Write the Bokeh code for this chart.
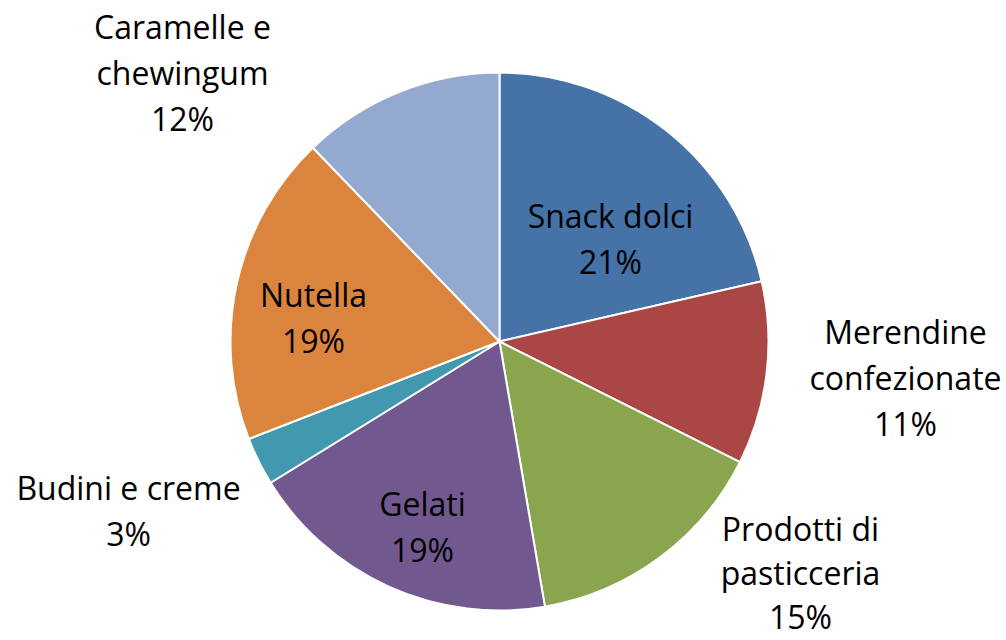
import math
from bokeh.plotting import figure
from bokeh.models import Range1d, ColumnDataSource
from bokeh.core.properties import value
from bokeh.embed import file_html
from bokeh.resources import INLINE

# ---- data ----
categories = ["Snack dolci", "Merendine confezionate", "Prodotti di pasticceria",
              "Gelati", "Budini e creme", "Nutella", "Caramelle e chewingum"]
shares = [21.4, 11.0, 14.9, 18.9, 2.9, 18.7, 12.2]
label_lines = [["Snack dolci"], ["Merendine", "confezionate"], ["Prodotti di", "pasticceria"],
               ["Gelati"], ["Budini e creme"], ["Nutella"], ["Caramelle e", "chewingum"]]
colors = ["#4572A7", "#AA4643", "#89A54E", "#71588F", "#4198AF", "#DB843D", "#93A9CF"]

# ---- layout ----
W, H = 1006, 640
CX, CY, R = 499, 640 - 341, 269
# label block centres (screen px)
label_xy = [(610, 238), (905, 377), (800, 572), (422, 526), (128, 510), (313, 317), (182, 72)]
line_gaps = [46, 46, 44, 46, 46, 46, 46]
FONT = "Open Sans"
FS = 32

total = sum(shares)
starts, ends = [], []
cum = 0.0
for v in shares:
    a0 = math.pi / 2 - 2 * math.pi * cum / total
    cum += v
    a1 = math.pi / 2 - 2 * math.pi * cum / total
    starts.append(a0)
    ends.append(a1)

p = figure(width=W, height=H, x_range=Range1d(0, W), y_range=Range1d(0, H),
           x_axis_type=None, y_axis_type=None, toolbar_location=None,
           output_backend="svg", min_border=0, outline_line_color=None,
           background_fill_color="white", border_fill_color="white")
p.grid.visible = False

src = ColumnDataSource(dict(start=starts, end=ends, color=colors, cat=categories))
p.wedge(x=CX, y=CY, radius=R, start_angle="start", end_angle="end", direction="clock",
        fill_color="color", line_color="white", line_width=2, source=src)

tx, ty, tt = [], [], []
for lines, v, (lx, ly), gap in zip(label_lines, shares, label_xy, line_gaps):
    allines = lines + [f"{round(v / total * 100)}%"]
    n = len(allines)
    for i, t in enumerate(allines):
        sy = ly + (i - (n - 1) / 2) * gap
        tx.append(lx)
        ty.append(H - sy)
        tt.append(t)

p.text(x=tx, y=ty, text=tt, text_align="center", text_baseline="middle",
       text_font=value(FONT), text_font_size=f"{FS}px", text_color="black")

open("out.html", "w").write(file_html(p, INLINE))
